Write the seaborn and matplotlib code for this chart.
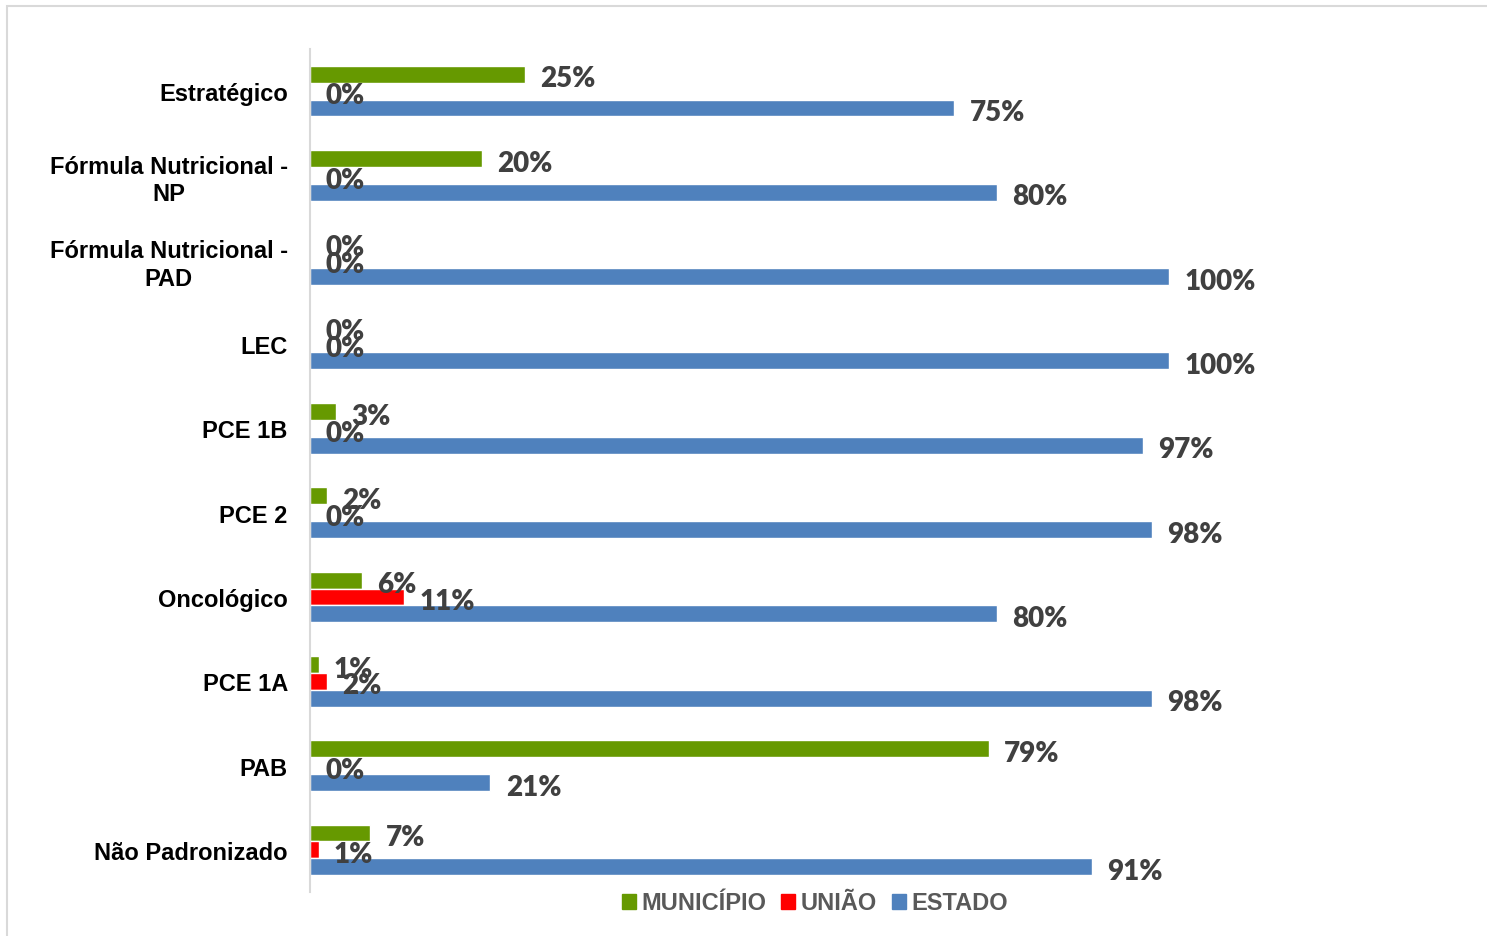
import numpy as np
import pandas as pd
import seaborn as sns
import matplotlib.pyplot as plt
from matplotlib.patches import Rectangle

categorias = ["Estratégico", "Fórmula Nutricional -\nNP", "Fórmula Nutricional -\nPAD", "LEC",
              "PCE 1B", "PCE 2", "Oncológico", "PCE 1A", "PAB", "Não Padronizado"]
municipio = [25, 20, 0, 0, 3, 2, 6, 1, 79, 7]
uniao = [0, 0, 0, 0, 0, 0, 11, 2, 0, 1]
estado = [75, 80, 100, 100, 97, 98, 80, 98, 21, 91]
series = ["MUNICÍPIO", "UNIÃO", "ESTADO"]
cores = ["#669900", "#FF0000", "#4F81BD"]


def main():
    df = pd.DataFrame({"categoria": categorias, "MUNICÍPIO": municipio,
                       "UNIÃO": uniao, "ESTADO": estado})
    df = df.melt(id_vars="categoria", var_name="fonte", value_name="pct")

    sns.set_theme(style="white")
    plt.rcParams['font.family'] = ['Liberation Sans', 'DejaVu Sans']

    fig = plt.figure(figsize=(14.87, 9.37), dpi=100)
    ax = fig.add_axes([310 / 1487, 1 - 893 / 937, (1400 - 310) / 1487, (893 - 50) / 937])

    sns.barplot(data=df, y="categoria", x="pct", hue="fonte", hue_order=series,
                palette=cores, orient="h", width=0.6, gap=0, saturation=1,
                order=categorias, ax=ax, legend=True)

    for cont in ax.containers:
        anns = ax.bar_label(cont, fmt="{:.0f}%", padding=11, color="#404040",
                            fontsize=20, fontweight="heavy", family=["Lato", "DejaVu Sans"])
        for a in anns:
            a.xyann = (11, -3)  # labels sit a little lower than bar centre

    ax.set_xlim(0, (1400 - 310) / 8.59)
    ax.set_xlabel("")
    ax.set_ylabel("")
    ax.set_xticks([])
    ax.tick_params(axis="y", length=0, pad=16)
    for lab in ax.get_yticklabels():
        lab.set_fontsize(17)
        lab.set_fontweight("bold")
        lab.set_color("black")
        lab.set_multialignment("center")
        lab.set_linespacing(1.25)
    for s in ["top", "right", "bottom"]:
        ax.spines[s].set_visible(False)
    ax.spines["left"].set_color("#d9d9d9")
    ax.spines["left"].set_linewidth(1.5)

    ax.legend_.remove()
    handles = [plt.Rectangle((0, 0), 1, 1, color=c) for c in cores]
    leg = fig.legend(handles, series, loc="center", bbox_to_anchor=(815 / 1487, 1 - 904 / 937),
                     ncol=3, frameon=False, handlelength=0.6, handleheight=0.6,
                     handletextpad=0.25, columnspacing=0.6,
                     prop={"size": 17, "weight": "bold"})
    for t in leg.get_texts():
        t.set_color("#595959")

    fig.patches.append(Rectangle((7 / 1487, -0.1), 1.2, 1.1 - 7 / 937, transform=fig.transFigure,
                                 fill=False, edgecolor="#d9d9d9", linewidth=1.5))

    fig.savefig("out.png", dpi=100, facecolor="white")


if __name__ == "__main__":
    main()
